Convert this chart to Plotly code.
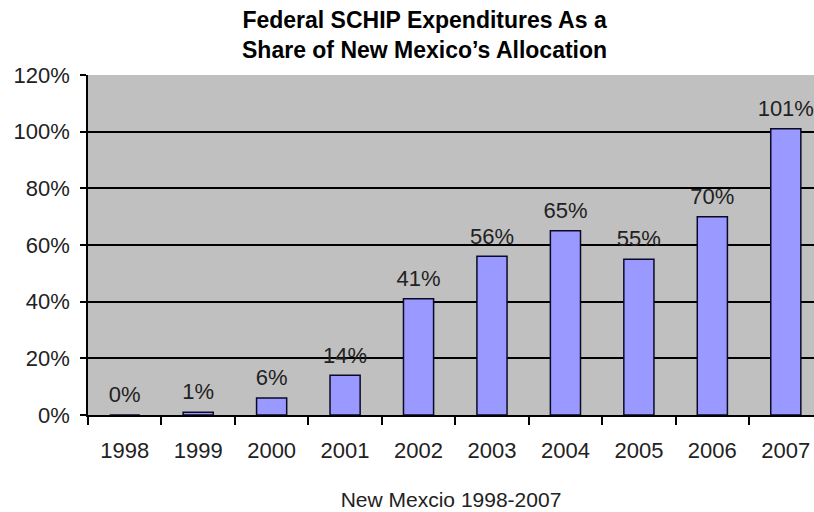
import plotly.graph_objects as go

years = ["1998", "1999", "2000", "2001", "2002", "2003", "2004", "2005", "2006", "2007"]
share = [0, 1, 6, 14, 41, 56, 65, 55, 70, 101]
labels = ["0%", "1%", "6%", "14%", "41%", "56%", "65%", "55%", "70%", "101%"]
y_ticks = [0, 20, 40, 60, 80, 100, 120]
y_tick_text = ["0%", "20%", "40%", "60%", "80%", "100%", "120%"]
title_lines = ["Federal SCHIP Expenditures As a", "Share of New Mexico\u2019s Allocation"]

FONT = "Liberation Sans, Arial, sans-serif"

fig = go.Figure()
fig.add_trace(go.Bar(
    x=years, y=share, width=0.41,
    marker=dict(color="#9999ff", line=dict(color="#0a0a28", width=1.5)),
    hoverinfo="skip",
))
fig.add_trace(go.Scatter(
    x=years, y=share, text=labels, mode="markers+text",
    textposition="top center", cliponaxis=False,
    marker=dict(size=10, opacity=0),
    textfont=dict(family=FONT, size=22, color="#222222"),
    hoverinfo="skip",
))

fig.add_annotation(
    text="<b>" + "<br>".join(title_lines) + "</b>",
    xref="paper", yref="paper", x=(424.5 - 88) / 726, y=1 + (75 - 35) / 340,
    xanchor="center", yanchor="middle", showarrow=False,
    font=dict(family=FONT, size=23, color="black"),
)

fig.update_layout(
    width=814, height=512,
    margin=dict(l=88, r=0, t=75, b=97),
    paper_bgcolor="white", plot_bgcolor="#c0c0c0",
    showlegend=False,
)
fig.update_xaxes(
    type="category", range=[-0.5, 9.384],
    showline=True, linecolor="black", linewidth=1.5,
    ticks="outside", tickson="boundaries", ticklen=8, tickwidth=1.5, tickcolor="black",
    ticklabelstandoff=15, showgrid=False,
    tickfont=dict(family=FONT, size=22, color="#222222"),
    title=dict(text="New Mexcio 1998-2007", standoff=30,
               font=dict(family=FONT, size=21, color="#222222")),
)
fig.update_yaxes(
    range=[0, 120], tickvals=y_ticks, ticktext=y_tick_text,
    showline=True, linecolor="black", linewidth=1.5,
    ticks="outside", ticklen=6, tickwidth=1.5, tickcolor="black",
    ticklabelstandoff=6,
    showgrid=True, gridcolor="black", gridwidth=1.5, zeroline=False,
    tickfont=dict(family=FONT, size=22, color="#222222"),
)

fig.write_html("out.html")
